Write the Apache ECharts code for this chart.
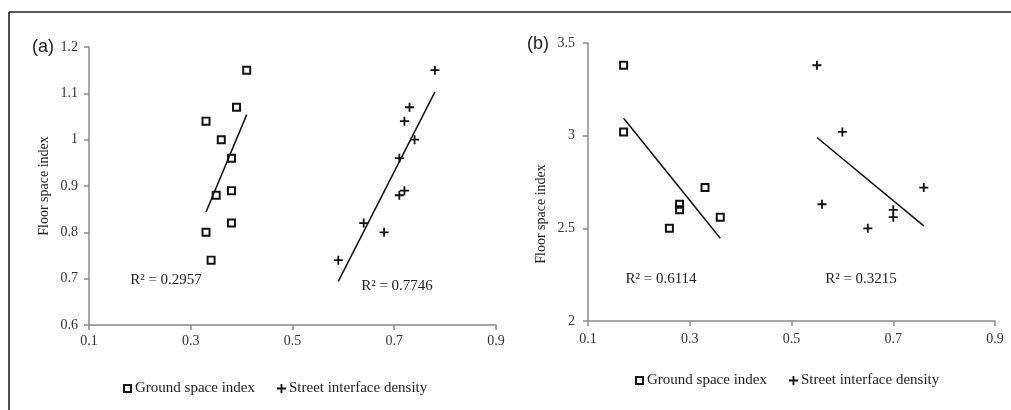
<!DOCTYPE html>
<html>
<head>
<meta charset="utf-8">
<script src="https://cdn.jsdelivr.net/npm/echarts@6/dist/echarts.min.js"></script>
<style>html,body{margin:0;padding:0;background:#fff}#c{width:1011px;height:410px}</style>
</head>
<body>
<div id="c"></div>
<script>
// Panel (a)
const a_gsi_x = [0.41, 0.39, 0.33, 0.36, 0.38, 0.38, 0.35, 0.38, 0.33, 0.34];
const a_sid_x = [0.78, 0.73, 0.72, 0.74, 0.71, 0.72, 0.71, 0.64, 0.68, 0.59];
const a_fsi   = [1.15, 1.07, 1.04, 1.00, 0.96, 0.89, 0.88, 0.82, 0.80, 0.74];
const a_trend_gsi = [[0.33, 0.844], [0.41, 1.054]];
const a_trend_sid = [[0.59, 0.694], [0.78, 1.103]];
const a_r2 = ['R² = 0.2957', 'R² = 0.7746'];
// Panel (b)
const b_gsi_x = [0.17, 0.17, 0.33, 0.28, 0.28, 0.36, 0.26];
const b_sid_x = [0.55, 0.60, 0.76, 0.56, 0.70, 0.70, 0.65];
const b_fsi   = [3.38, 3.02, 2.72, 2.63, 2.60, 2.56, 2.50];
const b_trend_gsi = [[0.17, 3.094], [0.36, 2.447]];
const b_trend_sid = [[0.55, 2.990], [0.76, 2.513]];
const b_r2 = ['R² = 0.6114', 'R² = 0.3215'];
const seriesNames = ['Ground space index', 'Street interface density'];
const yName = 'Floor space index';

const SERIF = '"Liberation Serif", "DejaVu Serif", serif';
const SANS = '"Liberation Sans", Arial, sans-serif';
const SQ = 'path://M0,0H10V10H0Z M2.2,2.2V7.8H7.8V2.2H2.2Z';
const PLUS = 'path://M4,0H6V4H10V6H6V10H4V6H0V4H4Z';
const zip = (xs, ys) => xs.map((x, i) => [x, ys[i]]);
const fmt = v => String(+(+v).toFixed(1));

function xAxis(gi){
  return {type:'value', gridIndex:gi, min:0.1, max:0.9, interval:0.2,
    axisLine:{show:true, lineStyle:{color:'#8a8a8a', width:1.5}},
    axisTick:{show:true, length:5, lineStyle:{color:'#8a8a8a', width:1.5}},
    splitLine:{show:false},
    axisLabel:{formatter:fmt, color:'#333', fontFamily:SERIF, fontSize:14, margin:gi===0?9:11}};
}
function yAxis(gi, min, max, interval){
  return {type:'value', gridIndex:gi, min, max, interval,
    axisLine:{show:true, lineStyle:{color:'#8a8a8a', width:1.5}},
    axisTick:{show:true, length:5, lineStyle:{color:'#8a8a8a', width:1.5}},
    splitLine:{show:false},
    axisLabel:{formatter:fmt, color:'#333', fontFamily:SERIF, fontSize:14, margin:gi===0?11:13}};
}
function scatter(name, gi, data, sym, size){
  return {name, type:'scatter', xAxisIndex:gi, yAxisIndex:gi, data,
    symbol:sym, symbolSize:size, itemStyle:{color:'#111', opacity:1}, silent:true, z:3};
}
function trend(gi, data){
  return {name:'trend', type:'line', xAxisIndex:gi, yAxisIndex:gi, data,
    showSymbol:false, symbol:'none', lineStyle:{color:'#111', width:1.5}, silent:true, z:2};
}
function txt(x, y, s, font, size, rot){
  return {type:'text', x, y, rotation:rot||0,
    style:{text:s, fill:'#222', font: size + 'px ' + font, align:'center', verticalAlign:'middle'}};
}
function legend(left, top){
  return {left, top, padding:0, itemGap:22, itemWidth:9, itemHeight:9,
    textStyle:{fontFamily:SERIF, fontSize:15, color:'#222', padding:[0,0,0,-2]},
    data:[{name:seriesNames[0], icon:SQ}, {name:seriesNames[1], icon:PLUS}],
    selectedMode:false};
}

const chart = echarts.init(document.getElementById('c'), null, {renderer:'canvas'});
chart.setOption({
  animation:false,
  backgroundColor:'#fff',
  grid:[
    {left:89, right:515, top:47, bottom:85},
    {left:588, right:16, top:43, bottom:89}
  ],
  xAxis:[xAxis(0), xAxis(1)],
  yAxis:[yAxis(0, 0.6, 1.2, 0.1), yAxis(1, 2, 3.5, 0.5)],
  legend:[legend(123, 381), legend(635, 373)],
  series:[
    scatter(seriesNames[0], 0, zip(a_gsi_x, a_fsi), SQ, 9),
    scatter(seriesNames[1], 0, zip(a_sid_x, a_fsi), PLUS, 9),
    trend(0, a_trend_gsi), trend(0, a_trend_sid),
    scatter(seriesNames[0], 1, zip(b_gsi_x, b_fsi), SQ, 9),
    scatter(seriesNames[1], 1, zip(b_sid_x, b_fsi), PLUS, 9),
    trend(1, b_trend_gsi), trend(1, b_trend_sid)
  ],
  graphic:[
    {type:'line', shape:{x1:9, y1:12, x2:1011, y2:12}, style:{stroke:'#222', lineWidth:1.6}},
    {type:'line', shape:{x1:9, y1:12, x2:9, y2:410}, style:{stroke:'#222', lineWidth:1.6}},
    txt(43, 47, '(a)', SANS, 18),
    txt(538, 44, '(b)', SANS, 18),
    txt(44, 186, yName, SERIF, 14, Math.PI/2),
    txt(541, 214, yName, SERIF, 14, Math.PI/2),
    txt(166, 280, a_r2[0], SERIF, 15),
    txt(397, 286, a_r2[1], SERIF, 15),
    txt(661, 279, b_r2[0], SERIF, 15),
    txt(861, 279, b_r2[1], SERIF, 15)
  ]
});
</script>
</body>
</html>
